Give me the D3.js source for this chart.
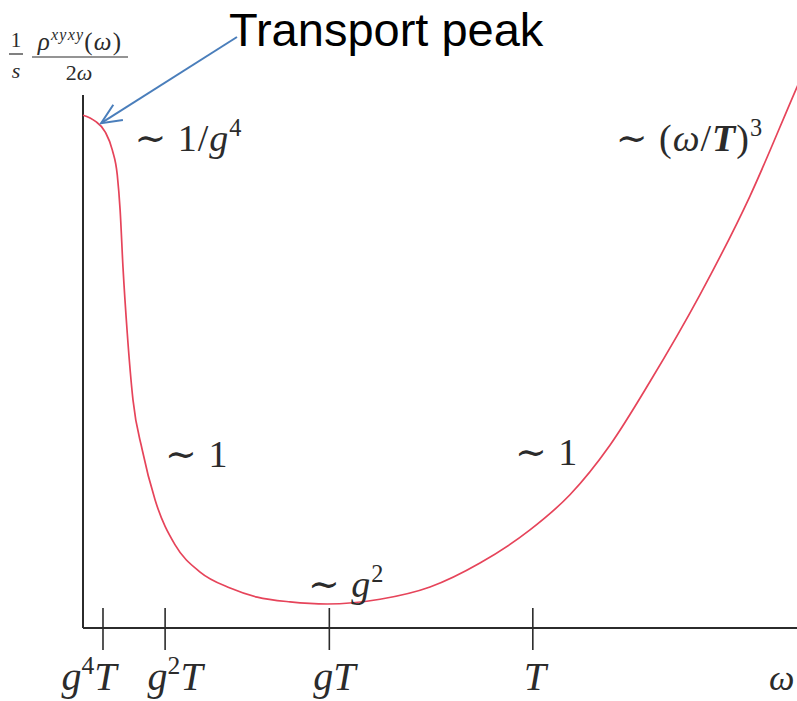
<!DOCTYPE html>
<html>
<head>
<meta charset="utf-8">
<script src="https://cdn.jsdelivr.net/npm/d3@7"></script>
<style>
  html, body { margin: 0; padding: 0; background: #fff; }
  svg { display: block; }
</style>
</head>
<body>
<svg id="chart" width="797" height="701"></svg>
<script>
// Spectral function sketch: rho^{xyxy}(omega)/(2 omega s) against omega (schematic units)
const omega    = [0, 0.17, 0.31, 0.41, 0.48, 0.52, 0.56, 0.62, 0.70, 0.83, 1.01, 1.29, 1.64, 2.06, 2.44, 2.90, 3.42, 4.16, 4.86, 5.56, 6.26, 6.82, 7.38, 7.94, 8.64, 9.34, 10.0, 10.13];
const response = [9.62, 9.51, 9.31, 8.97, 8.50, 7.84, 6.77, 5.53, 4.28, 3.34, 2.40, 1.56, 1.05, 0.75, 0.58, 0.49, 0.45, 0.54, 0.77, 1.22, 1.84, 2.50, 3.43, 4.62, 6.25, 8.10, 10.15, 10.55];

// Scale markers on the omega axis
const tickNames = ["g4T", "g2T", "gT", "T"];
const tickPos   = [0.28, 1.15, 3.45, 6.30];
const tickLabels = [
  [{t: "g", i: true}, {t: "4", sup: true}, {t: "T", i: true}],
  [{t: "g", i: true}, {t: "2", sup: true}, {t: "T", i: true}],
  [{t: "g", i: true}, {t: "T", i: true}],
  [{t: "T", i: true}]
];

// Regime annotations: position in chart units and text pieces
const regimeX = [0.72, 1.15, 3.15, 6.05, 7.46];
const regimeY = [8.95, 3.02, 0.58, 3.05, 8.95];
const regimeText = [
  [{t: "∼ "}, {t: "1/"}, {t: "g", i: true}, {t: "4", sup: true}],
  [{t: "∼ 1"}],
  [{t: "∼ "}, {t: "g", i: true}, {t: "2", sup: true}],
  [{t: "∼ 1"}],
  [{t: "∼ ("}, {t: "ω", i: true}, {t: "/"}, {t: "T", i: true, b: true}, {t: ")"}, {t: "3", sup: true}]
];

const svg = d3.select("#chart");
const W = 797, H = 701;
const margin = {left: 83, top: 95, right: 0, bottom: 73};

const x = d3.scaleLinear().domain([0, 10]).range([margin.left, W - margin.right]);
const y = d3.scaleLinear().domain([0, 10]).range([H - margin.bottom, margin.top]);

const mathFont = "'Liberation Serif', 'DejaVu Serif', serif";
const ink = "#2b2b2b";

// Writes a run of text pieces with italic / bold / superscript handling
function mathText(sel, pieces, size) {
  pieces.forEach((p, k) => {
    const ts = sel.append("tspan").text(p.t);
    if (p.i) ts.attr("font-style", "italic");
    if (p.b) ts.attr("font-weight", "bold");
    const prev = k > 0 ? pieces[k - 1] : null;
    if (p.sup) {
      ts.attr("font-size", size * 0.64).attr("dy", -size * 0.4);
    } else if (prev && prev.sup) {
      ts.attr("dy", size * 0.4);
    }
  });
  return sel;
}

const clip = svg.append("defs").append("clipPath").attr("id", "plotClip");
clip.append("rect").attr("x", 0).attr("y", 0).attr("width", W).attr("height", H);

// Axes
const axisY0 = y(0);
svg.append("line")
  .attr("x1", x(0)).attr("x2", x(0))
  .attr("y1", margin.top).attr("y2", axisY0)
  .attr("stroke", ink).attr("stroke-width", 2);
svg.append("line")
  .attr("x1", x(0)).attr("x2", W)
  .attr("y1", axisY0).attr("y2", axisY0)
  .attr("stroke", ink).attr("stroke-width", 2);

// Ticks crossing the omega axis; labels nudged sideways so they do not collide
const labelNudge = [-14, 10, 5, 2];
const tickG = svg.append("g");
tickPos.forEach((v, k) => {
  tickG.append("line")
    .attr("class", "tick-" + tickNames[k])
    .attr("x1", x(v)).attr("x2", x(v))
    .attr("y1", axisY0 - 20).attr("y2", axisY0 + 22)
    .attr("stroke", ink).attr("stroke-width", 1.6);
  const t = tickG.append("text")
    .attr("x", x(v) + labelNudge[k]).attr("y", axisY0 + 62)
    .attr("text-anchor", "middle")
    .attr("font-family", mathFont).attr("font-size", 40)
    .attr("fill", ink);
  mathText(t, tickLabels[k], 40);
});

svg.append("text")
  .attr("x", 769).attr("y", axisY0 + 62)
  .attr("font-family", mathFont).attr("font-size", 36)
  .attr("font-style", "italic").attr("fill", ink)
  .text("ω");

// Curve
const line = d3.line()
  .x((d, k) => x(omega[k]))
  .y(d => y(d))
  .curve(d3.curveMonotoneX);

svg.append("path")
  .datum(response)
  .attr("clip-path", "url(#plotClip)")
  .attr("d", line)
  .attr("fill", "none")
  .attr("stroke", "#e6445a")
  .attr("stroke-width", 1.7);

// Regime annotations
regimeText.forEach((pieces, k) => {
  const t = svg.append("text")
    .attr("x", x(regimeX[k])).attr("y", y(regimeY[k]))
    .attr("font-family", mathFont).attr("font-size", 38)
    .attr("letter-spacing", 1)
    .attr("fill", ink);
  mathText(t, pieces, 38);
});

// Vertical axis label: (1/s) * rho^{xyxy}(omega) / (2 omega)
const lab = svg.append("g").attr("fill", ink).attr("font-family", mathFont);
lab.append("text").attr("x", 16).attr("y", 47).attr("text-anchor", "middle")
  .attr("font-size", 21).text("1");
lab.append("line").attr("x1", 9).attr("x2", 23).attr("y1", 54).attr("y2", 54)
  .attr("stroke", ink).attr("stroke-width", 1.2);
lab.append("text").attr("x", 16).attr("y", 78).attr("text-anchor", "middle")
  .attr("font-size", 22).attr("font-style", "italic").text("s");
const num = lab.append("text").attr("x", 80).attr("y", 50).attr("text-anchor", "middle")
  .attr("font-size", 25).attr("letter-spacing", 1.2);
mathText(num, [{t: "ρ", i: true}, {t: "xyxy", i: true, sup: true}, {t: "("}, {t: "ω", i: true}, {t: ")"}], 25);
lab.append("line").attr("x1", 32).attr("x2", 128).attr("y1", 57).attr("y2", 57)
  .attr("stroke", ink).attr("stroke-width", 1.2);
const den = lab.append("text").attr("x", 79).attr("y", 80).attr("text-anchor", "middle")
  .attr("font-size", 22);
mathText(den, [{t: "2"}, {t: "ω", i: true}], 22);

// Callout for the peak at small omega
svg.append("text")
  .attr("x", 229).attr("y", 46)
  .attr("font-family", "'Liberation Sans', Arial, sans-serif")
  .attr("font-size", 47).attr("fill", "#000")
  .text("Transport peak");

const tip = [x(omega[1]) + 6, y(response[1]) + 2];
const tail = [237, 37];
const ang = Math.atan2(tail[1] - tip[1], tail[0] - tip[0]);
const headLen = 22, spread = 0.42;
const arrowColor = "#4a7ebb";
svg.append("line")
  .attr("x1", tail[0]).attr("y1", tail[1]).attr("x2", tip[0]).attr("y2", tip[1])
  .attr("stroke", arrowColor).attr("stroke-width", 2);
svg.append("path")
  .attr("d", d3.line()([
    [tip[0] + headLen * Math.cos(ang - spread), tip[1] + headLen * Math.sin(ang - spread)],
    tip,
    [tip[0] + headLen * Math.cos(ang + spread), tip[1] + headLen * Math.sin(ang + spread)]
  ]))
  .attr("fill", "none").attr("stroke", arrowColor).attr("stroke-width", 2)
  .attr("stroke-linejoin", "miter");
</script>
</body>
</html>
